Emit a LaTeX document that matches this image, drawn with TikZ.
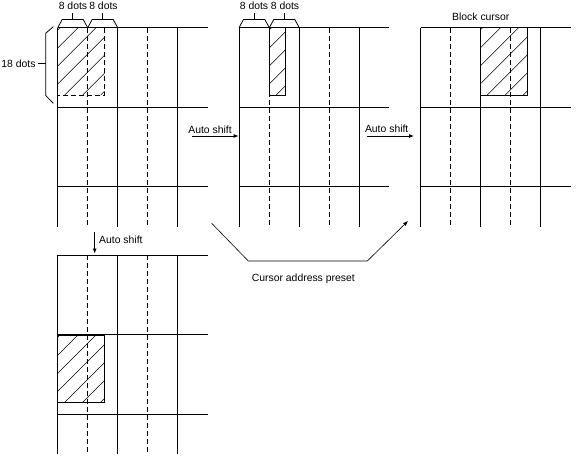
\documentclass[tikz,border=0pt]{standalone}
\usepackage{fontspec}
\setmainfont{Liberation Sans}
\usetikzlibrary{arrows.meta}
\newcommand\hatchbox[4]{%
  \begin{scope}
    \clip (#1,#2) rectangle (#3,#4);
    \foreach \k in {-5,...,4} \draw[hl] ({#1+7+\k*18},#4) -- ++(120,-120);
  \end{scope}}
\newcommand\topbrace[2]{%
  \draw[gl] (#1,27.7) -- ({#1+4.5},19.5) -- ({#2-4.5},19.5) -- (#2,27.7);
  \draw[gl] ({(#1+#2)/2},19.5) -- ({(#1+#2)/2},13.3);}
\begin{document}
\begin{tikzpicture}[x=1pt,y=-1pt,
  gl/.style={line width=0.8pt},
  dl/.style={line width=0.8pt,dash pattern=on 5pt off 3pt},
  hl/.style={line width=0.45pt},
  lbl/.style={font=\fontsize{10.4}{12}\selectfont,inner sep=0pt,anchor=base},
  arr/.style={line width=0.8pt,-{Latex[length=5pt,width=4pt]}},
  gridpanel/.pic={
    \foreach \gx in {0,60,120} \draw[gl] (\gx,0) -- (\gx,199);
    \foreach \gx in {30,90} \draw[dl] (\gx,0) -- (\gx,199);
    \foreach \gy in {0,79.6,159} \draw[gl] (0,\gy) -- (150,\gy);
  }]
\useasboundingbox (0,0) rectangle (580,460);

% panels
\pic at (57.7,27.7) {gridpanel};
\pic at (239,27.7) {gridpanel};
\pic at (420.7,27.7) {gridpanel};
\pic at (57.7,255) {gridpanel};

% cursor panel 1
\hatchbox{57.7}{27.7}{104.7}{95}
\draw[dl] (104.7,27.7) -- (104.7,95) -- (57.7,95);

% cursor panel 2
\fill[white] (269.3,27.7) rectangle (285.7,95);
\hatchbox{269.3}{27.7}{285.7}{95}
\draw[gl] (269.3,27.7) rectangle (285.7,95);

% cursor panel 3
\hatchbox{480.3}{27.7}{527.3}{95}
\draw[gl] (480.3,27.7) rectangle (527.3,95);

% cursor panel 4
\hatchbox{57.7}{335.3}{104.7}{402.3}
\draw[gl] (57.7,335.3) rectangle (104.7,402.3);

% braces
\topbrace{57.7}{87.7}
\topbrace{87.7}{117.7}
\topbrace{239}{269.3}
\topbrace{269.3}{299.3}
\draw[gl] (53.3,26.7) -- (45.7,33.3) -- (45.7,95.5) -- (53.3,103.3);
\draw[gl] (45.7,63.3) -- (38.3,63.3);

% labels
\node[lbl] (d1) at (73,10) {8 dots};
\node[lbl] (d2) at (103.5,10) {8 dots};
\node[lbl] (d3) at (254,10) {8 dots};
\node[lbl] (d4) at (285,10) {8 dots};
\node[lbl] (d18) at (18.5,67) {18 dots};
\node[lbl] (bc) at (480.8,20.7) {Block cursor};
\node[lbl] (as1) at (210,133.3) {Auto shift};
\node[lbl] (as2) at (386.7,132.6) {Auto shift};
\node[lbl,anchor=base west] (as3) at (99,243.3) {Auto shift};
\node[lbl] (cap) at (303.3,281.5) {Cursor address preset};

% arrows
\coordinate (a1s) at (192,136);
\coordinate (a1e) at (238.6,136);
\coordinate (a2s) at (367,136);
\coordinate (a2e) at (414,136);
\coordinate (a3s) at (94.7,231.7);
\coordinate (a3e) at (94.7,253.5);
\coordinate (c1) at (211.7,223.3);
\coordinate (c2) at (248.3,261);
\coordinate (c3) at (367.3,261);
\coordinate (c4) at (408,221);
\draw[arr] (a1s) -- (a1e);
\draw[arr] (a2s) -- (a2e);
\draw[arr] (a3s) -- (a3e);
\draw[line width=0.6pt,-{Latex[length=5pt,width=4pt]}] (c1) -- (c2) -- (c3) -- (c4);
\end{tikzpicture}
\end{document}
